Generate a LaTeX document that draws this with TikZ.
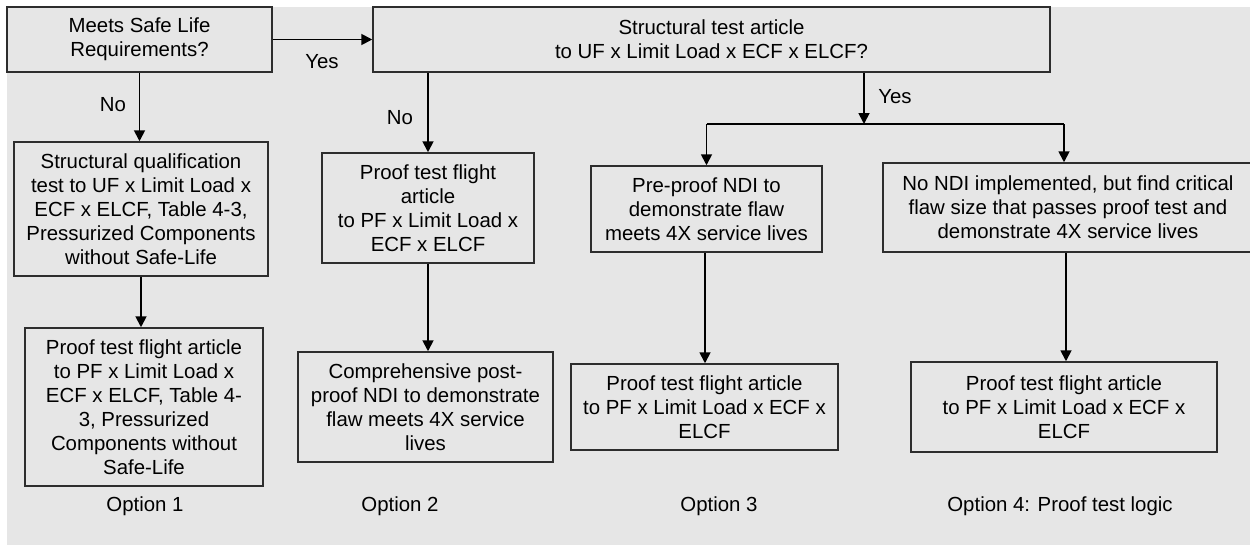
\documentclass[tikz,border=0pt]{standalone}
\usepackage{fontspec}
\setmainfont{Liberation Sans}
\usepackage{tikz}
\usepackage{xcolor}
\usetikzlibrary{arrows.meta}
\definecolor{bggray}{RGB}{230, 230, 230}
\definecolor{bordergray}{RGB}{45, 45, 45}

\begin{document}
\begin{tikzpicture}[x = 0.5pt, y = -0.5pt, line width = 0.9pt,
  every node/.style = {font = \fontsize{10.2}{12}\selectfont},
  box/.style = {draw = bordergray, line width = 0.75pt, fill = bggray, align = center, inner sep = 0pt},
  boxsize/.style 2 args = {minimum width = #1*0.5pt, minimum height = #2*0.5pt},
  arr/.style = {-{Triangle[length = 5.5pt, width = 5.5pt]}, black}]
\useasboundingbox (0,0) rectangle (1250,546);
\fill[bggray] (7,7) rectangle (1250,545);
% top row
\node[box, boxsize = {265}{65}] (safe) at (139.5,39.5) {Meets Safe Life\\Requirements?};
\node[box, boxsize = {677}{65}] (uf) at (711.5,39.5) {Structural test article\\to UF x Limit Load x ECF x ELCF?};
% option 1
\node[box, boxsize = {254}{134}] (qual) at (141,209) {Structural qualification\\test to UF x Limit Load x\\ECF x ELCF, Table 4-3,\\Pressurized Components\\without Safe-Life};
\node[box, boxsize = {238}{158}] (proofA) at (144,407) {Proof test flight article\\to PF x Limit Load x\\ECF x ELCF, Table 4-\\3, Pressurized\\Components without\\Safe-Life};
% option 2
\node[box, boxsize = {212}{110}] (proofB) at (428,208) {Proof test flight\\article\\to PF x Limit Load x\\ECF x ELCF};
\node[box, boxsize = {255}{110}] (postndi) at (425.5,407) {Comprehensive post-\\proof NDI to demonstrate\\flaw meets 4X service\\lives};
% option 3
\node[box, boxsize = {231}{86}] (prendi) at (706.5,209) {Pre-proof NDI to\\demonstrate flaw\\meets 4X service lives};
\node[box, boxsize = {267}{86}] (proofC) at (704.5,407) {Proof test flight article\\to PF x Limit Load x ECF x\\ELCF};
% option 4
\node[box, boxsize = {370}{89}] (nondi) at (1068,207.5) {No NDI implemented, but find critical\\flaw size that passes proof test and\\demonstrate 4X service lives};
\node[box, boxsize = {306}{90}] (proofD) at (1064,407) {Proof test flight article\\to PF x Limit Load x ECF x\\ELCF};
% connectors
\coordinate (split) at (864,124);
\draw[arr] (safe.east) -- (uf.west);
\draw[arr] (safe.south) -- (safe.south |- qual.north);
\draw[arr] (qual.south) -- (qual.south |- proofA.north);
\draw[arr] (uf.south -| proofB.north) -- (proofB.north);
\draw[arr] (proofB.south) -- (proofB.south |- postndi.north);
\draw[arr] (uf.south -| split) -- (split);
\draw (split -| prendi.north) -- (split -| 1064,0);
\draw[arr] (split -| prendi.north) -- (prendi.north);
\draw[arr] (split -| 1064,0) -- (1064,0 |- nondi.north);
\draw[arr] (705,0 |- prendi.south) -- (705,0 |- proofC.north);
\draw[arr] (1066,0 |- nondi.south) -- (1066,0 |- proofD.north);
% labels
\node (yesA) at (322,62) {Yes};
\node (noA) at (113,105) {No};
\node (noB) at (400,118) {No};
\node (yesB) at (895,97) {Yes};
\node (opt1) at (145,506) {Option 1};
\node (opt2) at (400,506) {Option 2};
\node (opt3) at (719,506) {Option 3};
\node (opt4) at (1060,506) {Option 4: Proof test logic};
\end{tikzpicture}
\end{document}
